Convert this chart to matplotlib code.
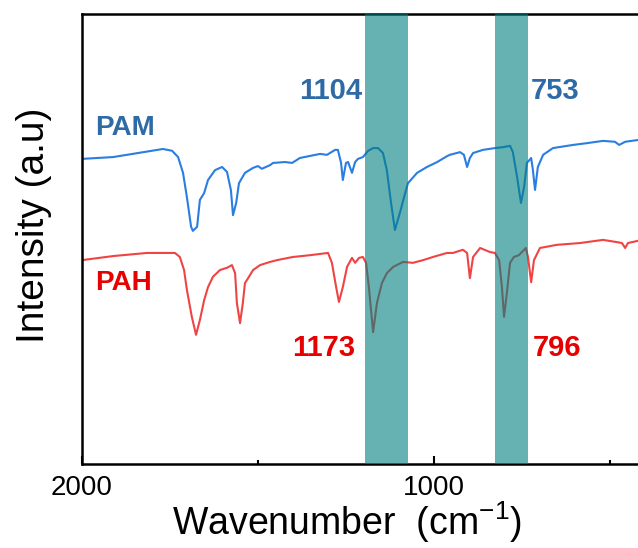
import matplotlib
matplotlib.use('Agg')
import matplotlib.pyplot as plt
import matplotlib.ticker as ticker

# 数据
pam_wn = [2000, 1912, 1770, 1744, 1727, 1713, 1702, 1690, 1685, 1673, 1665, 1653, 1642, 1622,
          1602, 1588, 1577, 1571, 1562, 1554, 1537, 1514, 1500, 1489, 1466, 1457, 1423, 1403,
          1381, 1324, 1304, 1281, 1273, 1264, 1259, 1250, 1244, 1233, 1224, 1216, 1202, 1187,
          1173, 1159, 1145, 1134, 1122, 1111, 1097, 1085, 1074, 1048, 1020, 991, 963, 955,
          926, 915, 906, 898, 889, 861, 827, 804, 784, 776, 764, 753, 744, 736, 724, 719,
          713, 705, 690, 662, 605, 565, 520, 486, 474, 457, 420]
pam_y = [67.8, 68.2, 70.0, 69.6, 68.2, 64.7, 59.3, 52.7, 51.8, 52.7, 58.7, 60.2, 63.1, 65.3,
         66.0, 64.9, 60.9, 55.3, 58.0, 62.4, 64.7, 65.8, 66.2, 65.6, 66.4, 66.9, 67.1, 66.9,
         68.0, 68.9, 68.7, 69.8, 69.8, 66.9, 63.1, 66.9, 67.1, 64.7, 67.1, 67.8, 68.2, 69.6,
         70.2, 70.2, 69.1, 65.3, 58.0, 52.0, 55.8, 59.3, 62.4, 64.7, 66.0, 67.1, 68.4, 68.7,
         69.3, 68.7, 66.0, 68.0, 69.1, 69.8, 70.2, 70.4, 70.7, 69.3, 63.8, 58.0, 61.6, 66.9,
         68.0, 65.3, 60.9, 66.0, 68.7, 70.2, 70.9, 71.3, 71.8, 71.6, 70.9, 71.6, 72.0]

pah_wn = [2000, 1912, 1815, 1736, 1722, 1710, 1702, 1688, 1676, 1665, 1653, 1642, 1628, 1608,
          1588, 1574, 1565, 1560, 1551, 1543, 1537, 1528, 1514, 1494, 1466, 1446, 1401, 1352,
          1301, 1290, 1278, 1270, 1259, 1247, 1233, 1224, 1213, 1202, 1193, 1185, 1173, 1162,
          1148, 1134, 1116, 1088, 1060, 1031, 1003, 963, 946, 918, 906, 898, 889, 869, 841,
          827, 815, 807, 801, 793, 784, 773, 759, 739, 733, 724, 716, 699, 651, 585, 520,
          480, 466, 457, 449, 420]
pah_y = [45.3, 46.2, 46.9, 46.9, 46.0, 43.1, 38.7, 32.7, 28.7, 32.0, 36.4, 39.3, 41.6, 43.1,
         43.6, 44.2, 42.4, 35.8, 31.3, 35.8, 40.2, 41.3, 43.1, 44.2, 44.9, 45.3, 46.0, 46.4,
         46.9, 44.7, 39.3, 36.0, 39.3, 43.8, 45.8, 44.7, 45.8, 46.0, 44.7, 39.3, 29.3, 35.8,
         40.2, 42.4, 43.8, 44.9, 44.7, 45.3, 46.0, 46.9, 46.9, 47.6, 46.9, 41.3, 46.0, 48.0,
         47.1, 46.9, 45.3, 39.3, 32.7, 38.0, 44.7, 46.0, 46.4, 48.0, 46.0, 40.4, 45.3, 48.0,
         48.7, 49.1, 49.8, 49.3, 49.1, 48.0, 49.1, 49.6]

# 阴影区间
bands = [(1196, 1074), (827, 733)]

# 标注
pam_peaks = ['1104', '753']
pah_peaks = ['1173', '796']

plt.rcParams['font.family'] = ['Liberation Sans', 'DejaVu Sans']
plt.rcParams['mathtext.fontset'] = 'custom'
plt.rcParams['mathtext.rm'] = 'Liberation Sans'

fig = plt.figure(figsize=(6.38, 5.48), dpi=100)
ax = fig.add_axes([0.1285, 0.1533, 0.8828, 0.8212])

ax.plot(pam_wn, pam_y, color='#2a7de1', lw=1.5)
ax.plot(pah_wn, pah_y, color='#f04444', lw=1.5)

for b in bands:
    ax.axvspan(b[0], b[1], color='#008080', alpha=0.6, lw=0, zorder=3)

ax.text(1963, 74.7, 'PAM', color='#2e6aa6', fontsize=20, fontweight='bold', va='center')
ax.text(1963, 40.2, 'PAH', color='#e60000', fontsize=20, fontweight='bold', va='center')
ax.text(1204, 82.9, pam_peaks[0], color='#2e6aa6', fontsize=21, fontweight='bold', va='center', ha='right')
ax.text(725, 82.9, pam_peaks[1], color='#2e6aa6', fontsize=21, fontweight='bold', va='center')
ax.text(1224, 25.8, pah_peaks[0], color='#e60000', fontsize=21, fontweight='bold', va='center', ha='right')
ax.text(720, 25.8, pah_peaks[1], color='#e60000', fontsize=21, fontweight='bold', va='center')

ax.set_xlim(2000, 400)
ax.set_ylim(0, 100)

ax.xaxis.set_major_locator(ticker.MultipleLocator(1000))
ax.xaxis.set_minor_locator(ticker.MultipleLocator(500))
ax.tick_params(axis='x', which='major', direction='in', length=6, width=1.5, labelsize=20, pad=8)
ax.tick_params(axis='x', which='minor', direction='in', length=3, width=1.5)
ax.set_yticks([])

for s in ax.spines.values():
    s.set_linewidth(1.8)

ax.set_xlabel(r'Wavenumber  (cm$^{\mathregular{-1}}$)', fontsize=27)
ax.xaxis.label.set_va('baseline')
ax.xaxis.set_label_coords(0.4705, -0.158)
ax.set_ylabel('Intensity (a.u)', fontsize=28)
ax.yaxis.set_label_coords(-0.0533, 0.531)

plt.savefig('out.png', dpi=100)
